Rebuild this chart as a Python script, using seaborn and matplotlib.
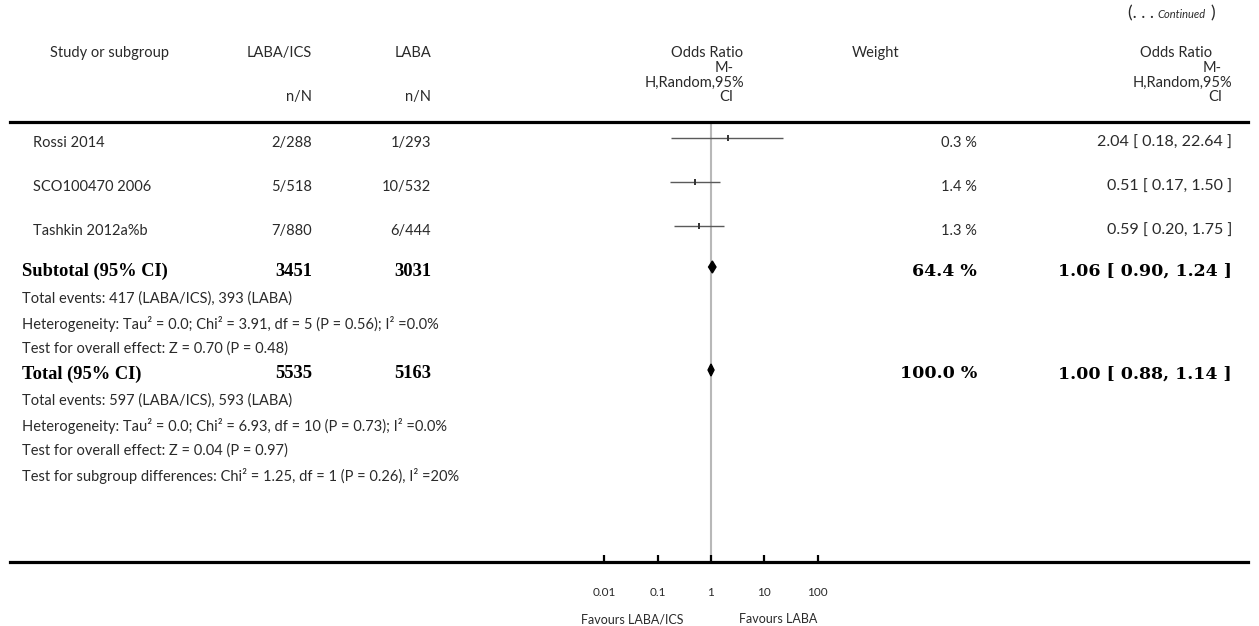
import matplotlib
matplotlib.use("Agg")
import matplotlib.pyplot as plt
import seaborn as sns
import pandas as pd
from matplotlib.ticker import FixedLocator, FixedFormatter, NullLocator

# ---- data ----
studies = ["Rossi 2014", "SCO100470 2006", "Tashkin 2012a%b"]
events_ics = ["2/288", "5/518", "7/880"]
events_laba = ["1/293", "10/532", "6/444"]
weights = ["0.3 %", "1.4 %", "1.3 %"]
or_est = [2.04, 0.51, 0.59]
or_lo = [0.18, 0.17, 0.20]
or_hi = [22.64, 1.50, 1.75]

pooled_names = ["Subtotal (95% CI)", "Total (95% CI)"]
pooled_n_ics = [3451, 5535]
pooled_n_laba = [3031, 5163]
pooled_weights = ["64.4 %", "100.0 %"]
pooled_est = [1.06, 1.00]
pooled_lo = [0.90, 0.88]
pooled_hi = [1.24, 1.14]

subtotal_notes = [
    "Total events: 417 (LABA/ICS), 393 (LABA)",
    "Heterogeneity: Tau² = 0.0; Chi² = 3.91, df = 5 (P = 0.56); I² =0.0%",
    "Test for overall effect: Z = 0.70 (P = 0.48)",
]
total_notes = [
    "Total events: 597 (LABA/ICS), 593 (LABA)",
    "Heterogeneity: Tau² = 0.0; Chi² = 6.93, df = 10 (P = 0.73); I² =0.0%",
    "Test for overall effect: Z = 0.04 (P = 0.97)",
    "Test for subgroup differences: Chi² = 1.25, df = 1 (P = 0.26), I² =20%",
]
tick_values = [0.01, 0.1, 1, 10, 100]
tick_labels = ["0.01", "0.1", "1", "10", "100"]
favours = ["Favours LABA/ICS", "Favours LABA"]
or_header = ["Odds Ratio", "M-", "H,Random,95%", "CI"]

# ---- layout (pixel rows, measured from the top) ----
W, H = 1259, 626
study_rows = [143, 187, 231]
pooled_rows = [271, 374]
subtotal_note_rows = [299, 324, 349]
total_note_rows = [401, 426, 451, 476]
header_rows = [53, 68, 83, 97]

sns.set_theme(style="white")
plt.rcParams["font.family"] = ["Lato", "DejaVu Sans"]
TXT = "#2a2a2a"
SERIF = ["Liberation Serif", "DejaVu Serif"]
SERIF_WIDE = ["DejaVu Serif"]


def fx(px):
    return px / W


def fy(py):
    return 1 - py / H


fig = plt.figure(figsize=(W / 100, H / 100), dpi=100)

# forest axis spans the full width; 1 decade = ~53 px, OR=1 at x=711
left_px, right_px, one_px, decade = 10, 1248, 711, 53.3
ax = fig.add_axes([fx(left_px), fy(562), fx(right_px) - fx(left_px), fy(122) - fy(562)])
ax.set_xscale("log")
ax.set_xlim(10 ** ((left_px - one_px) / decade), 10 ** ((right_px - one_px) / decade))
ax.set_ylim(562, 122)

ax.axvline(1, color="#b8b8b8", lw=1.5, zorder=0)

ci_rows = [r - 5 for r in study_rows]
ax.hlines(ci_rows, or_lo, or_hi, color="#5a5a5a", lw=1.0, zorder=2)
df = pd.DataFrame({"or": or_est, "row": ci_rows})
sns.scatterplot(data=df, x="or", y="row", marker="|", s=22, color="#333333",
                linewidth=1.4, ax=ax, zorder=3, legend=False)

for est, lo, hi, r in zip(pooled_est, pooled_lo, pooled_hi, pooled_rows):
    y = r - 4
    ax.fill([lo, est, hi, est], [y, y - 6, y, y + 6], color="black", zorder=3)

for side in ["left", "right"]:
    ax.spines[side].set_visible(False)
for side in ["top", "bottom"]:
    ax.spines[side].set_linewidth(2.3)
    ax.spines[side].set_color("black")
ax.set_ylabel("")
ax.set_xlabel("")
ax.set_yticks([])
ax.xaxis.set_major_locator(FixedLocator(tick_values))
ax.xaxis.set_major_formatter(FixedFormatter(tick_labels))
ax.xaxis.set_minor_locator(NullLocator())
ax.tick_params(axis="x", which="major", direction="in", length=5, width=1.6,
               color="black", bottom=True, top=False, pad=18,
               labelsize=8.5, labelcolor=TXT)

# ---- header ----
hkw = dict(va="center", fontsize=10.5, color=TXT)
fig.text(fx(50), fy(53), "Study or subgroup", ha="left", **hkw)
fig.text(fx(312), fy(53), "LABA/ICS", ha="right", **hkw)
fig.text(fx(431), fy(53), "LABA", ha="right", **hkw)
fig.text(fx(312), fy(97), "n/N", ha="right", **hkw)
fig.text(fx(431), fy(97), "n/N", ha="right", **hkw)
fig.text(fx(899), fy(53), "Weight", ha="right", **hkw)

# right edges of the stacked "Odds Ratio" header lines (graph and value columns)
for edges in ([743, 734, 744, 733], [1212, 1222, 1232, 1222]):
    for txt, y, xr in zip(or_header, header_rows, edges):
        fig.text(fx(xr), fy(y), txt, ha="right", **hkw)

fig.text(fx(1128), fy(13), "(. . .", ha="left", va="center", fontsize=12.5, color=TXT)
fig.text(fx(1206), fy(14), "Continued", ha="right", va="center", fontsize=8,
         style="italic", color=TXT)
fig.text(fx(1215), fy(13), ")", ha="right", va="center", fontsize=12.5, color=TXT)

# ---- study rows ----
for name, a, b, w, est, lo, hi, r in zip(studies, events_ics, events_laba, weights,
                                         or_est, or_lo, or_hi, study_rows):
    fig.text(fx(33), fy(r), name, ha="left", va="center", fontsize=10.5, color=TXT)
    fig.text(fx(312), fy(r), a, ha="right", va="center", fontsize=10.5, color=TXT)
    fig.text(fx(431), fy(r), b, ha="right", va="center", fontsize=10.5, color=TXT)
    fig.text(fx(977), fy(r), w, ha="right", va="center", fontsize=10.5, color=TXT)
    fig.text(fx(1232), fy(r), f"{est:.2f} [ {lo:.2f}, {hi:.2f} ]", ha="right",
             va="center", fontsize=11.5, color=TXT)

# ---- pooled rows ----
for name, a, b, w, est, lo, hi, r in zip(pooled_names, pooled_n_ics, pooled_n_laba,
                                         pooled_weights, pooled_est, pooled_lo,
                                         pooled_hi, pooled_rows):
    kw = dict(va="center", fontsize=13.3, fontweight="bold", family=SERIF, color="black")
    wkw = dict(va="center", fontsize=12.5, fontweight="bold", family=SERIF_WIDE, color="black")
    fig.text(fx(22), fy(r), name, ha="left", **kw)
    fig.text(fx(312), fy(r), str(a), ha="right", **kw)
    fig.text(fx(431), fy(r), str(b), ha="right", **kw)
    fig.text(fx(977), fy(r), w, ha="right", **wkw)
    fig.text(fx(1232), fy(r), f"{est:.2f} [ {lo:.2f}, {hi:.2f} ]", ha="right", **wkw)

for txt, r in zip(subtotal_notes + total_notes, subtotal_note_rows + total_note_rows):
    fig.text(fx(22), fy(r), txt, ha="left", va="center", fontsize=10.5, color=TXT)

fig.text(fx(684), fy(619), favours[0], ha="right", va="center", fontsize=9, color=TXT)
fig.text(fx(739), fy(619), favours[1], ha="left", va="center", fontsize=9, color=TXT)

fig.savefig("out.png", dpi=100)
